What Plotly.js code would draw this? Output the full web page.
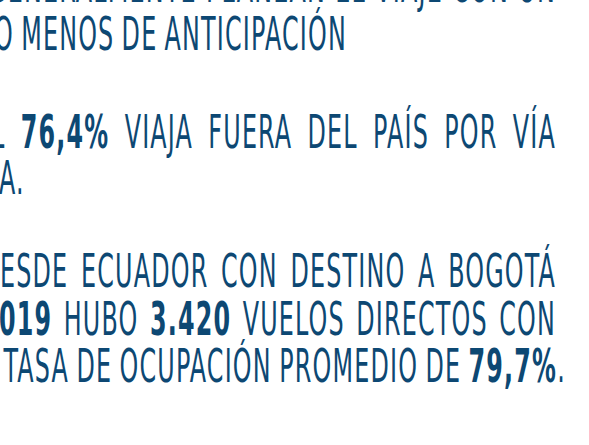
<!DOCTYPE html>
<html><head><meta charset="utf-8">
<script src="https://cdn.plot.ly/plotly-3.0.1.min.js"></script>
<style>html,body{margin:0;padding:0;background:#fff;overflow:hidden}#chart{width:589px;height:445px}</style>
</head><body><div id="chart"></div>
<script>
// ---- text content (left part of each line is cut off) ----
const lineTexts = [
  "GENERALMENTE PLANEAN EL VIAJE CON UN",
  "O MENOS DE ANTICIPACIÓN",
  "L <b>76,4%</b> VIAJA FUERA DEL PAÍS POR VÍA",
  "A.",
  "ESDE ECUADOR CON DESTINO A BOGOTÁ",
  "<b>019</b> HUBO <b>3.420</b> VUELOS DIRECTOS CON",
  "TASA DE OCUPACIÓN PROMEDIO DE <b>79,7%</b>."
];

// ---- layout (positions in axis units = pixels) ----
const leftEdges  = [-12, -6, -9, -1, 0, -1, 3];
const rightEdges = [556, 347, 556, 24, 556, 556, 566];
const baselines  = [2, 50, 148, 194, 287, 335, 382];
const probeWords = ['VIAJA', 'FUERA', 'ECUADOR', 'DESTINO', 'BOGOTÁ', 'VUELOS',
                    'DIRECTOS', 'OCUPACIÓN', 'PROMEDIO', 'MENOS', 'ANTICIPACIÓN'];
const probeTotal = 1290;     // summed word widths of the probe words
const tracking = 1.2;        // extra space between letters (px)
const capScale = 1.07;
const FONT = "'Liberation Sans Narrow', 'DejaVu Sans Condensed', 'Liberation Sans', sans-serif";
const COLOR = '#0d4873';

const annotations = lineTexts.map((t, i) => ({
  text: t, xref: 'x', yref: 'y', x: rightEdges[i], y: Math.max(0, baselines[i]),
  xanchor: 'right', yanchor: 'bottom', showarrow: false, align: 'left',
  borderpad: 0, borderwidth: 0,
  font: {family: FONT, size: 44, color: COLOR}
}));

const layout = {
  width: 589, height: 445,
  margin: {l: 0, r: 0, t: 0, b: 0, pad: 0},
  paper_bgcolor: '#ffffff', plot_bgcolor: '#ffffff',
  showlegend: false,
  xaxis: {range: [0, 589], visible: false, fixedrange: true},
  yaxis: {range: [445, 0], visible: false, fixedrange: true},
  annotations: annotations
};

function fit(gd) {
  const xa = gd._fullLayout.xaxis, ya = gd._fullLayout.yaxis;
  const items = [];
  gd.querySelectorAll('g.annotation').forEach(g => {
    const i = +g.getAttribute('data-index');
    items[i] = g.querySelector('text');
  });
  const root = gd.querySelector('.main-svg').getScreenCTM();
  // probe glyph widths
  let sumW = 0, gaps = 0;
  probeWords.forEach(w => {
    const p = items[1].cloneNode(false);
    p.textContent = w;
    items[1].parentNode.appendChild(p);
    sumW += p.getBBox().width;
    gaps += w.length - 1;
    p.remove();
  });
  const s = (probeTotal - gaps * tracking) / sumW;
  items.forEach((t, i) => {
    t.style.letterSpacing = (tracking / s) + 'px';
    const w0 = t.getBBox().width;
    const plain = lineTexts[i].replace(/<[^>]+>/g, '');
    const n = (plain.match(/ /g) || []).length;
    if (n > 0) {
      const ws = ((rightEdges[i] - leftEdges[i]) / s - w0) / n;
      t.style.wordSpacing = ws + 'px';
    }
    const bb = t.getBBox();
    const pm = t.parentNode.getScreenCTM();
    const Lp = root.e + xa._offset + xa.d2p(leftEdges[i]);
    const Bp = root.f + ya._offset + ya.d2p(baselines[i]);
    const yAttr = parseFloat(t.getAttribute('y')) || 0;
    const tx = Lp - pm.e - s * bb.x;
    const ty = Bp - pm.f - capScale * yAttr;
    t.setAttribute('transform', `matrix(${s},0,0,${capScale},${tx},${ty})`);
  });
}

Plotly.newPlot('chart', [], layout, {displayModeBar: false, staticPlot: true})
  .then(gd => document.fonts.ready.then(() => fit(gd)));
</script>
</body></html>
